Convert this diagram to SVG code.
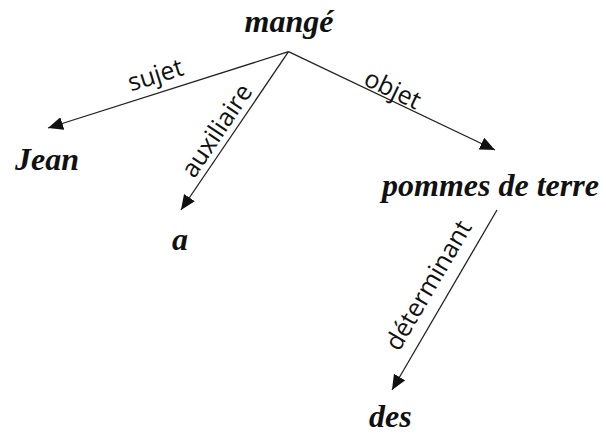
<svg xmlns="http://www.w3.org/2000/svg" width="606" height="434" viewBox="0 0 606 434">
<style>
.node{font-family:"Liberation Serif","Times New Roman",serif;font-weight:bold;font-style:italic;font-size:32px;fill:#111}
.lbl{font-family:"Open Sans","DejaVu Sans",sans-serif;font-size:25px;fill:#111;text-anchor:middle}
.edge{stroke:#222;stroke-width:1.3;fill:none;marker-end:url(#arr)}
</style>
<defs>
<marker id="arr" markerUnits="userSpaceOnUse" markerWidth="16" markerHeight="14" refX="15" refY="6.5" orient="auto" viewBox="0 0 16 13">
<path d="M0,0 L15,6.5 L0,13 z" fill="#111"/>
</marker>
</defs>
<rect width="606" height="434" fill="#fff"/>
<g id="connectors">
<line class="edge" x1="288.5" y1="51.7" x2="48" y2="128"/>
<line class="edge" x1="288.5" y1="51.7" x2="181" y2="210"/>
<line class="edge" x1="288.5" y1="51.7" x2="495" y2="150"/>
<line class="edge" x1="497" y1="210" x2="392" y2="390"/>
<text class="lbl" transform="translate(158,83) rotate(-17.6)">sujet</text>
<text class="lbl" transform="translate(223.8,135.3) rotate(-56.1)">auxiliaire</text>
<text class="lbl" transform="translate(389,97) rotate(25.6)">objet</text>
<text class="lbl" transform="translate(435.7,289.5) rotate(-59.7)">déterminant</text>
</g>
<g id="n-mange"><text class="node" x="289" y="32" text-anchor="middle">mangé</text></g>
<g id="n-jean"><text class="node" x="15" y="170">Jean</text></g>
<g id="n-a"><text class="node" x="172" y="250">a</text></g>
<g id="n-pommes"><text class="node" x="382" y="196">pommes de terre</text></g>
<g id="n-des"><text class="node" x="369" y="427">des</text></g>
</svg>
